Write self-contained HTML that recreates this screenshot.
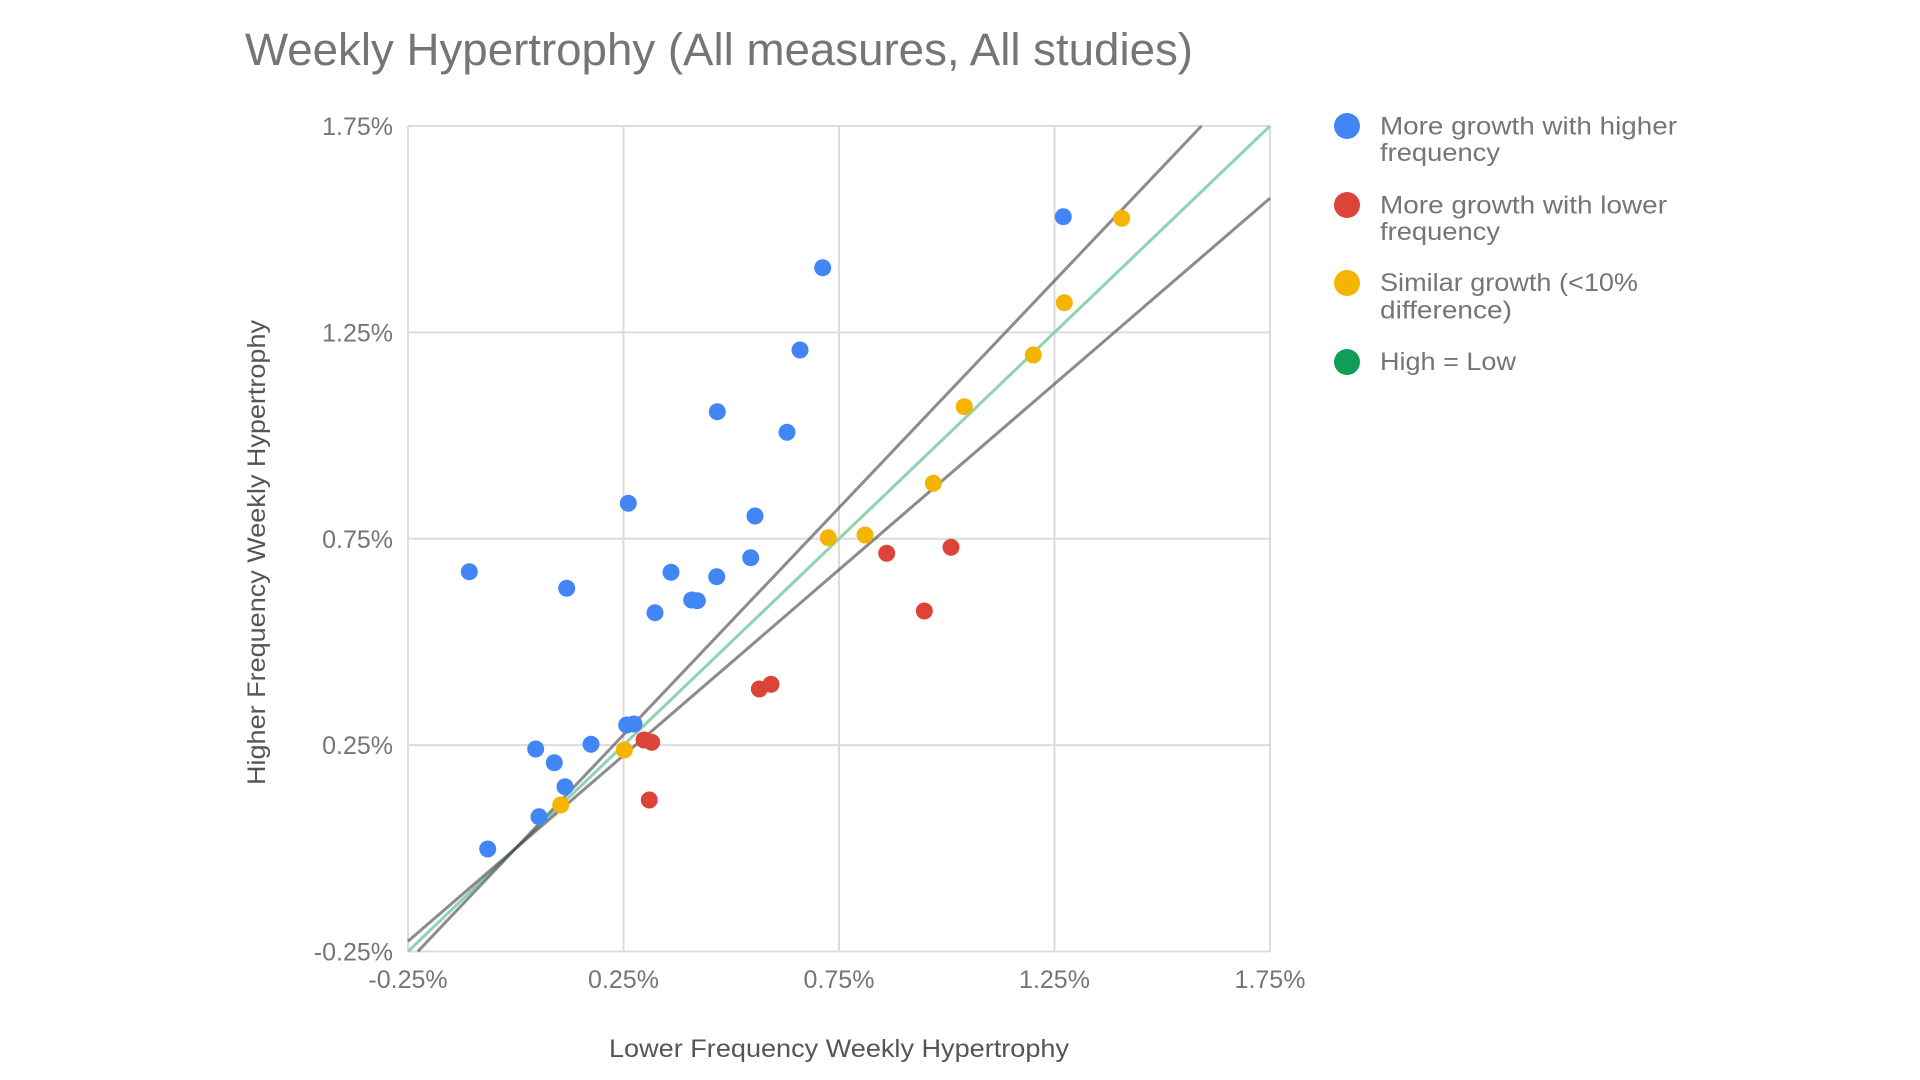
<!DOCTYPE html>
<html>
<head>
<meta charset="utf-8">
<style>
  html,body{margin:0;padding:0;background:#fff;}
  svg{display:block;}
  text{font-family:"Liberation Sans", Arial, sans-serif;}
</style>
</head>
<body>
<svg width="1920" height="1080" viewBox="0 0 1920 1080" xmlns="http://www.w3.org/2000/svg">
  <rect x="0" y="0" width="1920" height="1080" fill="#fff"/>

  <!-- Title -->
  <text x="245" y="65" font-size="45" fill="#757575" textLength="948" lengthAdjust="spacingAndGlyphs">Weekly Hypertrophy (All measures, All studies)</text>

  <!-- Gridlines -->
  <g stroke="#dcdcdc" stroke-width="2" fill="none">
    <line x1="408" y1="126" x2="1270" y2="126"/>
    <line x1="408" y1="332.4" x2="1270" y2="332.4"/>
    <line x1="408" y1="538.8" x2="1270" y2="538.8"/>
    <line x1="408" y1="745.1" x2="1270" y2="745.1"/>
    <line x1="408" y1="951.5" x2="1270" y2="951.5"/>
    <line x1="408" y1="126" x2="408" y2="951.5"/>
    <line x1="623.5" y1="126" x2="623.5" y2="951.5"/>
    <line x1="839" y1="126" x2="839" y2="951.5"/>
    <line x1="1054.5" y1="126" x2="1054.5" y2="951.5"/>
    <line x1="1270" y1="126" x2="1270" y2="951.5"/>
  </g>

  <!-- Y tick labels -->
  <g font-size="25" fill="#757575" text-anchor="end">
    <text x="393" y="135">1.75%</text>
    <text x="393" y="341.4">1.25%</text>
    <text x="393" y="547.8">0.75%</text>
    <text x="393" y="754.1">0.25%</text>
    <text x="393" y="960.5">-0.25%</text>
  </g>

  <!-- X tick labels -->
  <g font-size="25" fill="#757575" text-anchor="middle">
    <text x="408" y="988">-0.25%</text>
    <text x="623.5" y="988">0.25%</text>
    <text x="839" y="988">0.75%</text>
    <text x="1054.5" y="988">1.25%</text>
    <text x="1270" y="988">1.75%</text>
  </g>

  <!-- Axis titles -->
  <text x="839" y="1057" font-size="25" fill="#555" text-anchor="middle" textLength="460" lengthAdjust="spacingAndGlyphs">Lower Frequency Weekly Hypertrophy</text>
  <text transform="translate(265,552.5) rotate(-90)" font-size="25" fill="#555" text-anchor="middle" textLength="465" lengthAdjust="spacingAndGlyphs">Higher Frequency Weekly Hypertrophy</text>

  <!-- Reference lines -->
  <line x1="408" y1="951.5" x2="1270" y2="126" stroke="#8fd4b2" stroke-width="3"/>
  <line x1="417.8" y1="951.5" x2="1201.4" y2="126" stroke="rgba(70,70,70,0.62)" stroke-width="3"/>
  <line x1="408" y1="941.2" x2="1270" y2="198.2" stroke="rgba(70,70,70,0.62)" stroke-width="3"/>

  <!-- Blue points -->
  <g fill="#4285f4">
    <circle cx="469.3" cy="571.7" r="8.5"/>
    <circle cx="566.7" cy="588.3" r="8.5"/>
    <circle cx="628.3" cy="503.3" r="8.5"/>
    <circle cx="655" cy="612.7" r="8.5"/>
    <circle cx="671" cy="572.3" r="8.5"/>
    <circle cx="691.7" cy="600" r="8.5"/>
    <circle cx="697.3" cy="600.7" r="8.5"/>
    <circle cx="716.7" cy="576.7" r="8.5"/>
    <circle cx="717.3" cy="411.7" r="8.5"/>
    <circle cx="750.7" cy="557.7" r="8.5"/>
    <circle cx="755" cy="516" r="8.5"/>
    <circle cx="787" cy="432.3" r="8.5"/>
    <circle cx="800" cy="350" r="8.5"/>
    <circle cx="822.7" cy="267.7" r="8.5"/>
    <circle cx="1063.3" cy="216.7" r="8.5"/>
    <circle cx="487.7" cy="849" r="8.5"/>
    <circle cx="535.7" cy="749" r="8.5"/>
    <circle cx="539" cy="816.7" r="8.5"/>
    <circle cx="554.3" cy="762.7" r="8.5"/>
    <circle cx="565" cy="786.7" r="8.5"/>
    <circle cx="591" cy="744.3" r="8.5"/>
    <circle cx="626.7" cy="725" r="8.5"/>
    <circle cx="634" cy="724" r="8.5"/>
  </g>

  <!-- Red points -->
  <g fill="#db4437">
    <circle cx="644" cy="740" r="8.5"/>
    <circle cx="651.7" cy="742.3" r="8.5"/>
    <circle cx="649.3" cy="800" r="8.5"/>
    <circle cx="759.3" cy="689" r="8.5"/>
    <circle cx="771" cy="684.3" r="8.5"/>
    <circle cx="886.7" cy="553.3" r="8.5"/>
    <circle cx="924.3" cy="611" r="8.5"/>
    <circle cx="951" cy="547.3" r="8.5"/>
  </g>

  <!-- Yellow points -->
  <g fill="#f4b400">
    <circle cx="560.7" cy="805" r="8.5"/>
    <circle cx="624.3" cy="750" r="8.5"/>
    <circle cx="828.3" cy="537.7" r="8.5"/>
    <circle cx="865" cy="535" r="8.5"/>
    <circle cx="933.3" cy="483.3" r="8.5"/>
    <circle cx="964.3" cy="406.7" r="8.5"/>
    <circle cx="1033.3" cy="355" r="8.5"/>
    <circle cx="1064.3" cy="302.7" r="8.5"/>
    <circle cx="1121.7" cy="218.3" r="8.5"/>
  </g>

  <!-- Legend -->
  <circle cx="1347" cy="126" r="13" fill="#4285f4"/>
  <circle cx="1347" cy="205" r="13" fill="#db4437"/>
  <circle cx="1347" cy="283" r="13" fill="#f4b400"/>
  <circle cx="1347" cy="362" r="13" fill="#0f9d58"/>
  <g font-size="25" fill="#757575">
    <text x="1380" y="134.3" textLength="297" lengthAdjust="spacingAndGlyphs">More growth with higher</text>
    <text x="1380" y="161" textLength="120" lengthAdjust="spacingAndGlyphs">frequency</text>
    <text x="1380" y="213.3" textLength="287" lengthAdjust="spacingAndGlyphs">More growth with lower</text>
    <text x="1380" y="240" textLength="120" lengthAdjust="spacingAndGlyphs">frequency</text>
    <text x="1380" y="291" textLength="258" lengthAdjust="spacingAndGlyphs">Similar growth (&lt;10%</text>
    <text x="1380" y="318.3" textLength="132" lengthAdjust="spacingAndGlyphs">difference)</text>
    <text x="1380" y="370" textLength="136" lengthAdjust="spacingAndGlyphs">High = Low</text>
  </g>
</svg>
</body>
</html>
